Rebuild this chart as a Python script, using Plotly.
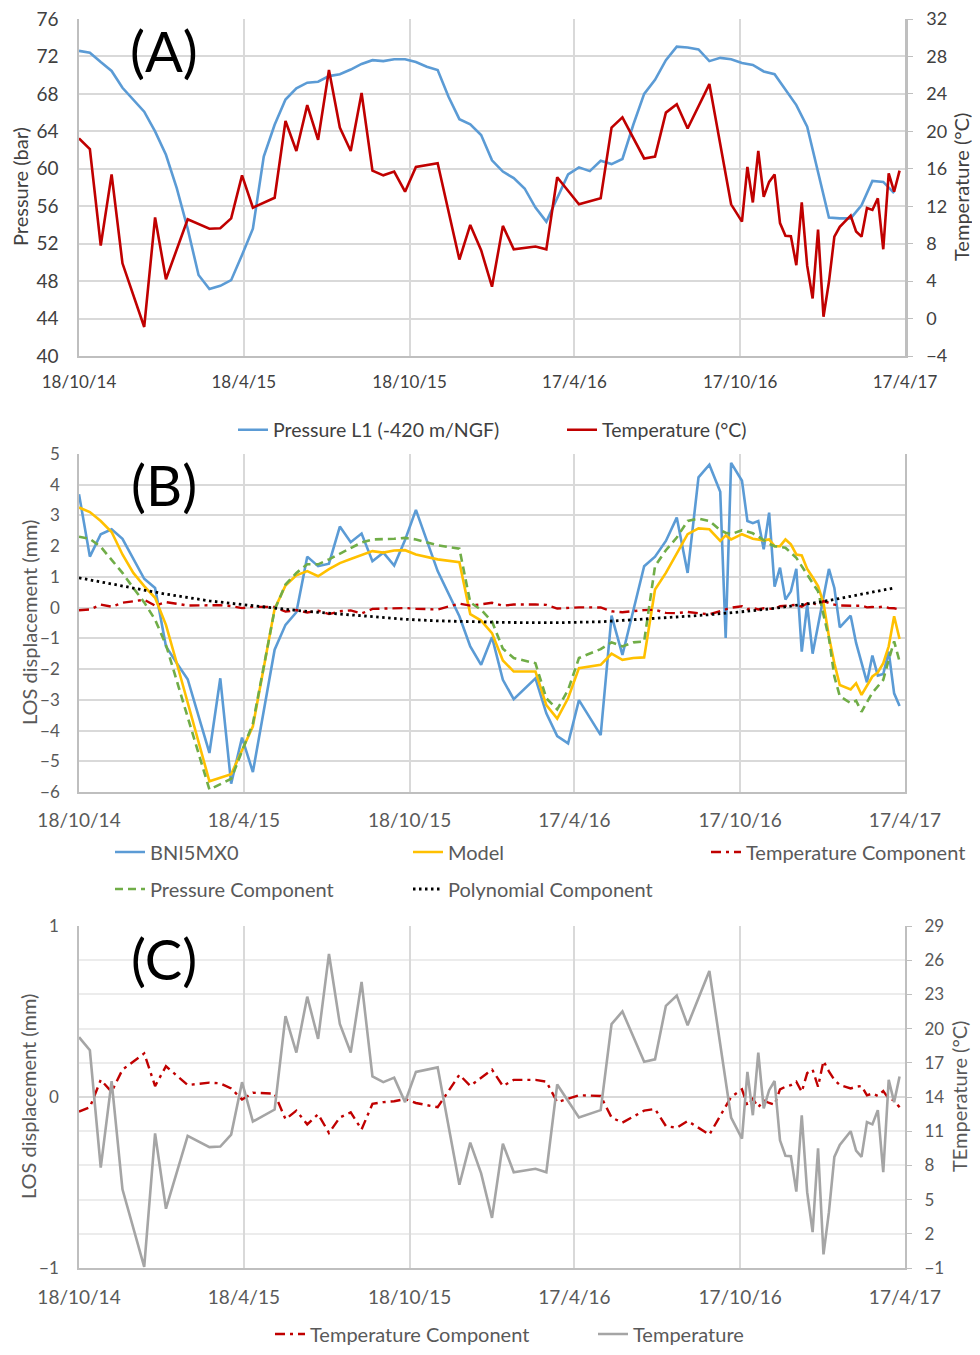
import pandas as pd
import plotly.graph_objects as go

# ---------------- data ----------------
BASE_DATE = "2014-10-18"

# Panel A: pressure L1 (bar), every 12 days from base date
pressure_days = [0, 12, 24, 36, 48, 60, 72, 84, 96, 108, 120, 132, 144, 156, 168, 180, 192, 204, 216, 228,
                 240, 252, 264, 276, 288, 300, 312, 324, 336, 348, 360, 372, 384, 396, 408, 420, 432, 444,
                 456, 468, 480, 492, 504, 516, 528, 540, 552, 564, 576, 588, 600, 612, 624, 636, 648, 660,
                 672, 684, 696, 708, 720, 732, 744, 756, 768, 780, 792, 804, 816, 828, 840, 852, 864, 876,
                 888, 900]
pressure_bar = [72.6, 72.4, 71.4, 70.45, 68.65, 67.35, 66.1, 64.0, 61.5, 57.9, 53.6, 48.65, 47.15, 47.5, 48.1,
                50.8, 53.6, 61.3, 64.7, 67.4, 68.6, 69.2, 69.3, 69.9, 70.1, 70.6, 71.2, 71.6, 71.5, 71.7, 71.7,
                71.4, 70.9, 70.55, 67.7, 65.3, 64.75, 63.6, 60.9, 59.7, 59.0, 57.9, 55.85, 54.35, 56.9, 59.4,
                60.15, 59.75, 60.85, 60.5, 61.05, 64.7, 68.0, 69.5, 71.6, 73.05, 72.95, 72.75, 71.5, 71.85,
                71.7, 71.3, 71.1, 70.4, 70.1, 68.5, 66.8, 64.5, 59.75, 54.8, 54.7, 54.7, 56.1, 58.7, 58.6, 57.4]

# Temperature (degC) at acquisition dates (panels A and C)
temp_days = [0, 12, 24, 36, 48, 72, 84, 96, 120, 144, 156, 168, 180, 192, 216, 228, 240, 252, 264, 276, 288,
             300, 312, 324, 336, 348, 360, 372, 396, 420, 432, 444, 456, 468, 480, 504, 516, 528, 552, 576,
             588, 600, 624, 636, 648, 660, 672, 696, 720, 732, 738, 744, 750, 756, 762, 768, 774, 780, 786,
             792, 798, 804, 810, 816, 822, 828, 834, 840, 852, 858, 864, 870, 876, 882, 888, 894, 900, 906]
temperature_c = [19.25, 18.1, 7.8, 15.4, 5.9, -0.9, 10.8, 4.2, 10.6, 9.6, 9.65, 10.7, 15.3, 11.85, 12.9, 21.1,
                 17.9, 22.8, 19.1, 26.55, 20.4, 17.9, 24.1, 15.8, 15.3, 15.7, 13.55, 16.2, 16.6, 6.3, 10.0,
                 7.3, 3.4, 9.9, 7.4, 7.7, 7.4, 15.1, 12.2, 12.85, 20.4, 21.5, 17.1, 17.3, 22.0, 22.9, 20.3,
                 25.05, 12.2, 10.35, 16.2, 12.4, 17.9, 13.0, 14.6, 15.4, 10.2, 8.85, 8.8, 5.7, 12.4, 5.65,
                 2.15, 9.5, 0.2, 3.9, 8.75, 9.8, 11.0, 9.3, 8.75, 11.8, 11.6, 12.85, 7.4, 15.5, 13.55, 15.8]
temp_component_mm = [-0.085, -0.06, 0.10, 0.03, 0.16, 0.255, 0.064, 0.18, 0.07, 0.084, 0.08, 0.05, -0.015,
                     0.025, 0.02, -0.13, -0.08, -0.16, -0.10, -0.21, -0.12, -0.09, -0.19, -0.04, -0.03, -0.025,
                     -0.012, -0.035, -0.06, 0.13, 0.065, 0.11, 0.16, 0.064, 0.10, 0.10, 0.09, -0.03, 0.01,
                     0.006, -0.12, -0.15, -0.08, -0.07, -0.17, -0.18, -0.14, -0.22, 0.0, 0.045, -0.05, -0.01,
                     -0.06, -0.02, -0.035, -0.045, 0.045, 0.06, 0.07, 0.09, 0.03, 0.14, 0.16, 0.06, 0.21, 0.15,
                     0.10, 0.07, 0.05, 0.06, 0.064, 0.01, 0.02, 0.006, 0.035, -0.01, -0.02, -0.06]

# Panel B: LOS displacement (mm)
los_days = [0, 12, 24, 36, 48, 60, 72, 84, 96, 108, 120, 144, 156, 168, 180, 192, 216, 228, 240, 252, 264, 276,
            288, 300, 312, 324, 336, 348, 360, 372, 396, 420, 432, 444, 456, 468, 480, 504, 516, 528, 540, 552,
            576, 588, 600, 624, 636, 648, 660, 672, 684, 696, 708, 714, 720, 732, 738, 744, 750, 756, 762, 768,
            774, 780, 786, 792, 798, 804, 810, 828, 834, 840, 852, 858, 870, 876, 882, 888, 894, 900, 906]
bni5mx0_mm = [3.69, 1.66, 2.39, 2.55, 2.24, 1.57, 0.94, 0.64, -1.26, -1.81, -2.33, -4.73, -2.30, -5.73, -4.23,
              -5.35, -1.37, -0.56, -0.15, 1.66, 1.35, 1.43, 2.64, 2.13, 2.41, 1.51, 1.79, 1.37, 2.2, 3.18, 1.19,
              -0.28, -1.26, -1.86, -0.96, -2.35, -2.98, -2.30, -3.44, -4.18, -4.42, -3.01, -4.15, -0.26, -1.54,
              1.35, 1.66, 2.17, 2.93, 1.13, 4.24, 4.65, 3.77, -0.99, 4.71, 4.13, 2.82, 2.75, 2.82, 1.90, 3.09,
              0.68, 1.30, 0.26, 0.53, 1.26, -1.43, 0.10, -1.5, 1.26, 0.64, -0.64, -0.26, -1.15, -2.43, -1.56,
              -2.21, -2.16, -1.43, -2.79, -3.20]

model_days = [0, 12, 24, 36, 48, 60, 72, 84, 96, 108, 144, 168, 192, 216, 228, 240, 252, 264, 276, 288, 300,
              312, 324, 336, 348, 360, 372, 396, 420, 432, 444, 456, 468, 480, 504, 516, 528, 540, 552, 576, 588,
              600, 612, 624, 636, 648, 660, 672, 684, 696, 708, 714, 720, 732, 744, 756, 762, 768, 774, 780, 786,
              792, 798, 804, 810, 816, 822, 828, 834, 840, 852, 858, 864, 870, 876, 882, 888, 894, 900, 906]
model_mm = [3.26, 3.11, 2.82, 2.46, 1.73, 1.13, 0.70, 0.32, -0.56, -1.81, -5.65, -5.42, -3.86, -0.04, 0.72, 1.05,
            1.19, 1.02, 1.25, 1.45, 1.58, 1.70, 1.84, 1.79, 1.86, 1.87, 1.73, 1.57, 1.48, -0.21, -0.42, -0.83,
            -1.72, -2.08, -2.08, -3.17, -3.61, -2.95, -1.97, -1.86, -1.50, -1.70, -1.64, -1.62, 0.59, 1.13, 1.76,
            2.39, 2.58, 2.55, 2.17, 2.35, 2.22, 2.39, 2.24, 2.19, 2.22, 2.0, 2.0, 2.22, 2.06, 1.73, 1.70, 1.26,
            0.99, 0.70, 0.15, -0.94, -1.81, -2.52, -2.66, -2.46, -2.84, -2.52, -2.24, -2.11, -1.81, -1.26,
            -0.28, -1.02]

pcomp_days = [0, 12, 24, 36, 48, 60, 72, 84, 96, 144, 168, 192, 216, 228, 240, 252, 264, 276, 288, 300, 312,
              324, 336, 348, 360, 372, 396, 420, 432, 444, 456, 468, 480, 504, 516, 528, 540, 552, 576, 588, 600,
              612, 624, 636, 648, 660, 672, 684, 696, 708, 714, 720, 732, 744, 756, 762, 768, 780, 792, 804, 816,
              828, 834, 840, 852, 858, 864, 876, 888, 894, 900, 906]
pressure_component_mm = [2.31, 2.24, 1.98, 1.57, 1.13, 0.64, 0.17, -0.39, -1.21, -5.92, -5.57, -3.77, -0.07,
                         0.75, 1.13, 1.41, 1.41, 1.57, 1.75, 1.92, 2.12, 2.22, 2.22, 2.24, 2.27, 2.22, 2.03,
                         1.92, 0.17, -0.07, -0.45, -1.34, -1.64, -1.81, -2.95, -3.31, -2.68, -1.64, -1.35,
                         -1.13, -1.26, -1.13, -1.10, 1.35, 1.87, 2.28, 2.82, 2.90, 2.82, 2.52, 2.44, 2.39,
                         2.52, 2.42, 2.20, 2.08, 2.0, 1.95, 1.62, 1.08, 0.53, -0.99, -2.24, -2.88, -3.11,
                         -3.03, -3.39, -2.77, -2.35, -1.70, -1.10, -1.75]

poly_days = [0, 24, 48, 72, 96, 120, 144, 168, 192, 216, 240, 264, 288, 312, 336, 360, 396, 432, 468, 504, 528,
             576, 600, 624, 648, 672, 696, 720, 744, 768, 792, 816, 840, 864, 888, 900]
polynomial_component_mm = [0.97, 0.83, 0.70, 0.57, 0.44, 0.32, 0.22, 0.14, 0.06, -0.02, -0.09, -0.15, -0.21,
                           -0.27, -0.32, -0.38, -0.43, -0.46, -0.48, -0.49, -0.49, -0.46, -0.42, -0.38, -0.33,
                           -0.28, -0.23, -0.17, -0.10, -0.02, 0.07, 0.17, 0.30, 0.43, 0.56, 0.64]

x_tick_dates = ["2014-10-18", "2015-04-18", "2015-10-18", "2016-04-17", "2016-10-17", "2017-04-17"]
x_tick_labels = ["18/10/14", "18/4/15", "18/10/15", "17/4/16", "17/10/16", "17/4/17"]


def to_dates(days):
    base = pd.Timestamp(BASE_DATE)
    return [base + pd.Timedelta(days=d) for d in days]


# ---------------- style ----------------
FONT = "Lato, 'Open Sans', sans-serif"
DARK = "#404040"
GREY = "#595959"
GRID = "#d9d9d9"
AXL = "#bfbfbf"
OFF = 8                      # page body margin of the html output
W, H = 980 - OFF, 1355 - 2 * OFF


def fx(x):
    return (x - OFF) / W


def fy(y):
    return 1 - (y - OFF) / H


XD = [fx(79), fx(905)]


def ydom(top, bottom):
    return [fy(bottom), fy(top)]


fig = go.Figure()

# ---- Panel A ----
fig.add_trace(go.Scatter(x=to_dates(pressure_days), y=pressure_bar, mode="lines",
                         name="Pressure L1 (-420 m/NGF)", line=dict(color="#5b9bd5", width=2.6),
                         xaxis="x", yaxis="y", legend="legend"))
fig.add_trace(go.Scatter(x=to_dates(temp_days), y=temperature_c, mode="lines",
                         name="Temperature (°C)", line=dict(color="#c00000", width=2.6),
                         xaxis="x", yaxis="y2", legend="legend"))

# ---- Panel B ----
fig.add_trace(go.Scatter(x=to_dates(los_days), y=bni5mx0_mm, mode="lines", name="BNI5MX0",
                         line=dict(color="#5b9bd5", width=2.6), xaxis="x2", yaxis="y3", legend="legend2"))
fig.add_trace(go.Scatter(x=to_dates(model_days), y=model_mm, mode="lines", name="Model",
                         line=dict(color="#ffc000", width=2.6), xaxis="x2", yaxis="y3", legend="legend2"))
fig.add_trace(go.Scatter(x=to_dates(temp_days), y=temp_component_mm, mode="lines", name="Temperature Component",
                         line=dict(color="#c00000", width=2.4, dash="10px,5px,3px,5px"),
                         xaxis="x2", yaxis="y3", legend="legend2"))
fig.add_trace(go.Scatter(x=to_dates(pcomp_days), y=pressure_component_mm, mode="lines",
                         name="Pressure Component", line=dict(color="#70ad47", width=2.6, dash="8px,5px"),
                         xaxis="x2", yaxis="y3", legend="legend3"))
fig.add_trace(go.Scatter(x=to_dates(poly_days), y=polynomial_component_mm, mode="lines",
                         name="Polynomial Component", line=dict(color="#000000", width=2.8, dash="2.5px,3.5px"),
                         xaxis="x2", yaxis="y3", legend="legend3"))

# ---- Panel C ----
fig.add_trace(go.Scatter(x=to_dates(temp_days), y=temp_component_mm, mode="lines", name="Temperature Component",
                         line=dict(color="#c00000", width=2.4, dash="10px,5px,3px,5px"),
                         xaxis="x3", yaxis="y4", legend="legend4"))
fig.add_trace(go.Scatter(x=to_dates(temp_days), y=temperature_c, mode="lines", name="Temperature",
                         line=dict(color="#a5a5a5", width=2.6), xaxis="x3", yaxis="y5", legend="legend4"))

xrange = ["2014-10-18", "2017-04-17"]


def xaxis(anchor, standoff, color, size):
    return dict(domain=XD, anchor=anchor, type="date", range=xrange, tickmode="array",
                tickvals=x_tick_dates, ticktext=x_tick_labels, showgrid=True, gridcolor=GRID, gridwidth=1.5,
                showline=True, linecolor=AXL, linewidth=1.5, ticks="", zeroline=False,
                ticklabeloverflow="allow",
                ticklabelstandoff=standoff, tickfont=dict(family=FONT, size=size, color=color))


def legend(x_text, y_mid, entry, size, color):
    return dict(orientation="h", x=fx(x_text - 40), xanchor="left", y=fy(y_mid), yanchor="middle",
                entrywidth=entry, font=dict(family=FONT, size=size, color=color), bgcolor="rgba(0,0,0,0)",
                borderwidth=0)


layout = dict(
    width=W, height=H, margin=dict(l=0, r=0, t=0, b=0, autoexpand=False),
    paper_bgcolor="white", plot_bgcolor="white",
    font=dict(family=FONT, size=17, color=GREY),
    xaxis=xaxis("y", 10, DARK, 17),
    yaxis=dict(domain=ydom(19, 356), anchor="x", range=[40, 76], dtick=4, tick0=40, showgrid=True,
               gridcolor=GRID, gridwidth=1.5, showline=True, linecolor=AXL, linewidth=1.5, ticks="",
               zeroline=False, ticklabelstandoff=15, ticklabeloverflow="allow",
               tickfont=dict(family=FONT, size=19, color=DARK)),
    yaxis2=dict(domain=ydom(19, 356), anchor="x", overlaying="y", side="right", range=[-4, 32], dtick=4,
                tick0=-4, showgrid=False, showline=True, linecolor=AXL, linewidth=2.5, ticks="outside",
                ticklen=5, tickcolor=AXL, zeroline=False, ticklabelstandoff=10, ticklabeloverflow="allow",
                tickfont=dict(family=FONT, size=18, color=DARK)),
    xaxis2=xaxis("y3", 10, GREY, 19),
    yaxis3=dict(domain=ydom(454, 792), anchor="x2", range=[-6, 5], dtick=1, tick0=-6, showgrid=True,
                gridcolor=GRID, gridwidth=1.5, showline=True, mirror=True, linecolor=AXL, linewidth=1.5,
                ticks="", zeroline=False, ticklabelstandoff=14, ticklabeloverflow="allow",
                tickfont=dict(family=FONT, size=17, color=GREY)),
    xaxis3=xaxis("y4", 11, GREY, 19),
    yaxis4=dict(domain=ydom(926, 1268), anchor="x3", range=[-1, 1], tickmode="array", tickvals=[-1, 0, 1],
                showgrid=True, gridcolor=GRID, gridwidth=1.5, showline=True, linecolor=AXL, linewidth=1.5,
                ticks="", zeroline=False, ticklabelstandoff=15, ticklabeloverflow="allow",
                minor=dict(dtick=0.2, tick0=-1, showgrid=True, gridcolor="#ececec", gridwidth=1.5, ticks=""),
                tickfont=dict(family=FONT, size=17, color=GREY)),
    yaxis5=dict(domain=ydom(926, 1268), anchor="x3", overlaying="y4", side="right", range=[-1, 29], dtick=3,
                tick0=-1, showgrid=False, showline=True, linecolor=AXL, linewidth=2, ticks="outside", ticklen=5,
                tickcolor=AXL, zeroline=False, ticklabelstandoff=9, ticklabeloverflow="allow",
                tickfont=dict(family=FONT, size=17, color=GREY)),
    legend=legend(273, 430, 284, 19.5, DARK),
    legend2=legend(150, 852, 253, 20, GREY),
    legend3=legend(150, 889, 253, 20, GREY),
    legend4=legend(310, 1334, 278, 20, GREY),
    showlegend=True,
)
fig.update_layout(**layout)

# panel letters and axis titles
ann = []
for txt, yc in [("(A)", 50), ("(B)", 484), ("(C)", 958)]:
    ann.append(dict(text=txt, x=fx(164), y=fy(yc), xref="paper", yref="paper", showarrow=False,
                    font=dict(family=FONT, size=56, color="#000000"), xanchor="center", yanchor="middle"))
for txt, xc, yc, col in [("Pressure (bar)", 20, 187, DARK), ("Temperature (°C)", 961, 187, DARK),
                         ("LOS displacement (mm)", 29, 623, GREY), ("LOS displacement (mm)", 28, 1097, GREY),
                         ("TEmperature (°C)", 959, 1097, GREY)]:
    ann.append(dict(text=txt, x=fx(xc), y=fy(yc), xref="paper", yref="paper", showarrow=False,
                    textangle=-90, font=dict(family=FONT, size=20, color=col), xanchor="center",
                    yanchor="middle"))
fig.update_layout(annotations=ann)

fig.write_html("out.html")
